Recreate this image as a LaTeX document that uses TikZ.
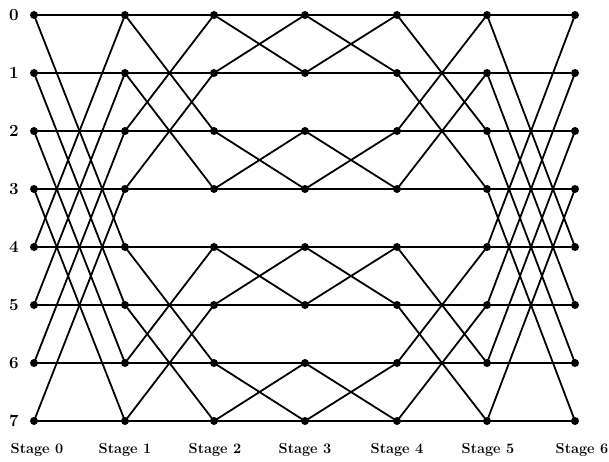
\documentclass[tikz,border=0pt]{standalone}
\begin{document}
\begin{tikzpicture}[x=1pt,y=-1pt,
  dot/.style={circle,fill=black,inner sep=0pt,minimum size=8pt},
  wire/.style={line width=1.8pt},
  rowlab/.style={font=\fontsize{17}{18}\selectfont\bfseries,anchor=center},
  stagelab/.style={font=\fontsize{14.5}{16}\selectfont\bfseries,anchor=center}]
\useasboundingbox (0,0) rectangle (609,462);
\def\xs{{34,125,214,305,397,487,575}}
\foreach \s in {0,...,6}{
  \foreach \r in {0,...,7}{
    \pgfmathsetmacro{\xx}{\xs[\s]}
    \pgfmathsetmacro{\yy}{15+58*\r}
    \node[dot] (n\s-\r) at (\xx,\yy) {};
  }
}
\foreach \r in {0,...,7}{
  \node[rowlab] (l\r) at (14,15+58*\r) {\r};
}
\foreach \s/\lx in {0/37,1/125,2/215,3/305,4/397,5/488,6/582}{
  \node[stagelab] (s\s) at (\lx,450) {Stage \s};
}
% stage connections: XOR distances 4,2,1,1,2,4
\foreach \s/\d in {0/4,1/2,2/1,3/1,4/2,5/4}{
  \pgfmathtruncatemacro{\t}{\s+1}
  \foreach \r in {0,...,7}{
    \pgfmathtruncatemacro{\b}{mod(floor(\r/\d),2)}
    \pgfmathtruncatemacro{\p}{\b==0 ? \r+\d : \r-\d}
    \draw[wire] (n\s-\r.center) -- (n\t-\r.center);
    \draw[wire] (n\s-\r.center) -- (n\t-\p.center);
  }
}
\end{tikzpicture}
\end{document}
